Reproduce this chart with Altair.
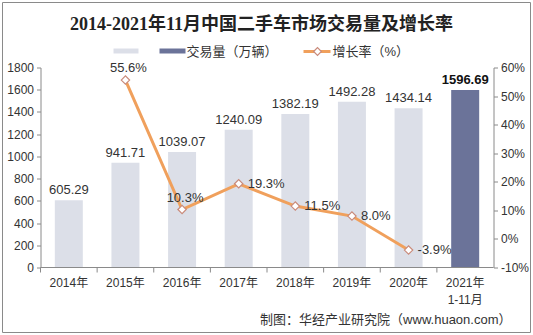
import altair as alt
import pandas as pd

categories = ["2014年", "2015年", "2016年", "2017年", "2018年", "2019年", "2020年", "2021年\n1-11月"]
volume = [605.29, 941.71, 1039.07, 1240.09, 1382.19, 1492.28, 1434.14, 1596.69]
growth = [None, 55.6, 10.3, 19.3, 11.5, 8.0, -3.9, None]

title_text = "2014-2021年11月中国二手车市场交易量及增长率"
legend_labels = ["交易量（万辆）", "增长率（%）"]
source_text = "制图：华经产业研究院（www.huaon.com）"
left_ticks = list(range(0, 1801, 200))
right_ticks = list(range(-10, 61, 10))

FONT = "Liberation Sans, Noto Sans CJK SC"
LIGHT = "#dcdfe8"
DARK = "#6b7399"
ORANGE = "#f0a05c"
AXIS_C = "#8a8a8a"
LAB_C = "#333333"
W, H = 453, 200

df = pd.DataFrame({"cat": categories, "vol": volume, "growth": growth})
one = pd.DataFrame({"k": [0]})

xscale = alt.Scale(domain=categories, paddingInner=0, paddingOuter=0)
x_none = alt.X("cat:N", scale=xscale, sort=categories, axis=None)
x_start = alt.X("cat:N", scale=xscale, sort=categories, axis=None, bandPosition=0)

yl = alt.Y("vol:Q", scale=alt.Scale(domain=[0, 1800], nice=False), title=None,
           axis=alt.Axis(orient="left", values=left_ticks, grid=False, tickSize=4, format="d",
                         tickColor=AXIS_C, domainColor=AXIS_C, labelFont=FONT,
                         labelFontSize=12, labelColor=LAB_C, labelPadding=3))
yl_none = alt.Y("vol:Q", scale=alt.Scale(domain=[0, 1800], nice=False), axis=None)

yr = alt.Y("growth:Q", scale=alt.Scale(domain=[-10, 60], nice=False), title=None,
           axis=alt.Axis(orient="right", values=right_ticks, grid=False, tickSize=4,
                         tickColor=AXIS_C, domainColor=AXIS_C, labelFont=FONT,
                         labelFontSize=12, labelColor=LAB_C, labelPadding=3,
                         labelExpr="datum.value + '%'"))
yr_none = alt.Y("growth:Q", scale=alt.Scale(domain=[-10, 60], nice=False), axis=None)

base = alt.Chart(df)
last_pred = alt.FieldEqualPredicate(field="cat", equal=categories[-1])

bars = base.mark_bar(size=28).encode(
    x=x_none, y=yl,
    color=alt.condition(last_pred, alt.value(DARK), alt.value(LIGHT)))
bar_text = base.transform_filter(alt.FieldOneOfPredicate(field="cat", oneOf=categories[:-1])).mark_text(
    dy=-10, font=FONT, fontSize=13, color=LAB_C).encode(
    x=x_none, y=yl_none, text=alt.Text("vol:Q", format=".2f"))
bar_text_last = base.transform_filter(last_pred).mark_text(
    dy=-10, font=FONT, fontSize=13, fontWeight="bold", color="#111111").encode(
    x=x_none, y=yl_none, text=alt.Text("vol:Q", format=".2f"))

# category axis drawn from the same band scale
x_domain = alt.Chart(one).mark_rule(color=AXIS_C, strokeWidth=1).encode(
    x=alt.value(0), x2=alt.value(W), y=alt.value(H))
x_ticks = base.mark_rule(color=AXIS_C, strokeWidth=1).encode(
    x=x_start, y=alt.value(H), y2=alt.value(H + 5))
x_labels = base.mark_text(baseline="top", lineBreak="\n", lineHeight=17, font=FONT,
                          fontSize=12, color=LAB_C).encode(
    x=x_none, y=alt.value(H + 10), text="cat:N")

gbase = base.transform_filter("datum.growth != null").transform_calculate(
    glab="replace(format(datum.growth, '.1f'), '\u2212', '-') + '%'")
line = gbase.mark_line(color=ORANGE, strokeWidth=3).encode(x=x_none, y=yr)
pts = gbase.mark_point(shape="diamond", filled=True, fill="white", stroke="#c98a7a",
                       strokeWidth=1.2, size=70, opacity=1).encode(x=x_none, y=yr_none)
lab_above = gbase.transform_filter(
    alt.FieldOneOfPredicate(field="cat", oneOf=categories[1:3])).mark_text(
    dy=-12, dx=3, font=FONT, fontSize=13, color=LAB_C).encode(x=x_none, y=yr_none, text="glab:N")
lab_right = gbase.transform_filter(
    alt.FieldOneOfPredicate(field="cat", oneOf=categories[3:7])).mark_text(
    align="left", dx=9, dy=0, font=FONT, fontSize=13, color=LAB_C).encode(
    x=x_none, y=yr_none, text="glab:N")

d = alt.Chart(one)
border = d.mark_rect(fillOpacity=0, stroke="#8a8a8a", strokeWidth=1).encode(
    x=alt.value(-38), x2=alt.value(490), y=alt.value(-65), y2=alt.value(265))
title = d.mark_text(font="Liberation Serif, Noto Sans CJK SC", fontSize=18,
                    fontWeight="bold", color="#222222").encode(
    x=alt.value(221), y=alt.value(-43), text=alt.value(title_text))
sw1 = d.mark_rect(color=LIGHT).encode(x=alt.value(73), x2=alt.value(98),
                                      y=alt.value(-19), y2=alt.value(-14))
sw2 = d.mark_rect(color=DARK).encode(x=alt.value(119), x2=alt.value(145),
                                     y=alt.value(-19), y2=alt.value(-14))
lt1 = d.mark_text(align="left", font=FONT, fontSize=13, color=LAB_C).encode(
    x=alt.value(146), y=alt.value(-16), text=alt.value(legend_labels[0]))
lline = d.mark_rule(color=ORANGE, strokeWidth=3).encode(
    x=alt.value(263), x2=alt.value(290), y=alt.value(-16))
ldia = d.mark_point(shape="diamond", filled=True, fill="white", stroke="#c98a7a",
                    strokeWidth=1.2, size=60, opacity=1).encode(x=alt.value(277), y=alt.value(-16))
lt2 = d.mark_text(align="left", font=FONT, fontSize=13, color=LAB_C).encode(
    x=alt.value(292), y=alt.value(-16), text=alt.value(legend_labels[1]))
src = d.mark_text(align="right", font=FONT, fontSize=13, color=LAB_C).encode(
    x=alt.value(471), y=alt.value(252), text=alt.value(source_text))

chart = alt.layer(
    bars, bar_text, bar_text_last, x_domain, x_ticks, x_labels,
    line, pts, lab_above, lab_right,
    border, title, sw1, sw2, lt1, lline, ldia, lt2, src
).resolve_scale(y="independent").properties(
    width=W, height=H,
    padding={"left": 1.5, "top": 1.5, "right": 1.5, "bottom": 1.5},
    background="white",
).configure_view(stroke=None)

chart.save("out.html", embed_options={"renderer": "svg", "actions": False})
